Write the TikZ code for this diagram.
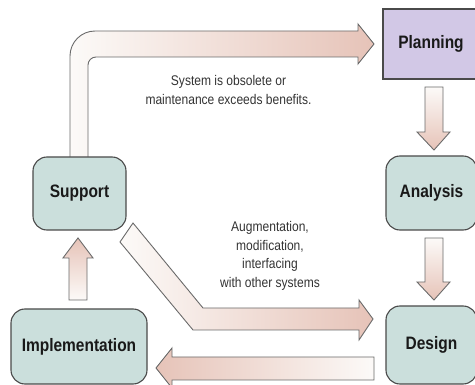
\documentclass[tikz,border=0pt]{standalone}
\usepackage{fontspec}
\setmainfont[FakeStretch=0.86]{Liberation Sans}
\definecolor{boxteal}{HTML}{CBDFDC}
\definecolor{planlav}{HTML}{D2C8E6}
\definecolor{edgegray}{HTML}{4A4A4A}
\definecolor{arrwhite}{HTML}{FCFAF8}
\definecolor{arrpink}{HTML}{E6C3B8}
\definecolor{arredge}{HTML}{6A6A6A}
\begin{document}
\begin{tikzpicture}[x=1pt,y=-1pt,
  box/.style={draw=edgegray, line width=1.1pt, fill=boxteal, rounded corners=14pt,
    inner sep=0pt, font=\bfseries\fontsize{18}{21}\selectfont, text=black!90},
  planbox/.style={box, fill=planlav, sharp corners},
  fat/.style={draw=arredge, line width=0.9pt, line join=miter},
  note/.style={align=center, inner sep=0pt, font=\fontsize{14}{18.5}\selectfont, text=black!80}]
\clip (0,0) rectangle (475,385);
\useasboundingbox (0,0) rectangle (475,385);

% fat arrows (drawn first so boxes cover their ends)
\path[fat, left color=arrwhite, right color=arrpink]
  (70,160) -- (70,56) .. controls (70,42.2) and (81.2,31) .. (95,31) -- (358,31) -- (358,24)
  -- (374,44) -- (358,64) -- (358,57) -- (96,57) .. controls (91.6,57) and (88,60.6) .. (88,65)
  -- (88,160) -- cycle;
\path[fat, top color=arrwhite, bottom color=arrpink]
  (425,87) -- (443,87) -- (443,132) -- (450,132) -- (434,150) -- (417,132) -- (425,132) -- cycle;
\path[fat, top color=arrwhite, bottom color=arrpink]
  (425,238) -- (443,238) -- (443,282) -- (450,282) -- (434,300) -- (417,282) -- (425,282) -- cycle;
\path[fat, top color=arrpink, bottom color=arrwhite]
  (69,300) -- (87,300) -- (87,258) -- (93,258) -- (78,238) -- (63,258) -- (69,258) -- cycle;
\path[fat, left color=arrpink, right color=arrwhite]
  (374,357) -- (172,357) -- (172,348) -- (156,368) -- (172,388) -- (172,380) -- (374,380) -- cycle;
\path[fat, left color=arrwhite, right color=arrpink]
  (133,223) -- (203,308) -- (359,308) -- (359,300) -- (373,319) -- (359,340) -- (359,330)
  -- (193,330) -- (120,242) -- cycle;

% boxes
\node[planbox, minimum width=96pt, minimum height=70pt] (plan) at (431,44) {Planning};
\node[box, minimum width=91pt, minimum height=74pt] (ana) at (431.5,193) {Analysis};
\node[box, minimum width=91pt, minimum height=78pt] (des) at (431.5,345) {Design};
\node[box, minimum width=93pt, minimum height=73pt] (sup) at (79.5,193.5) {Support};
\node[box, minimum width=136pt, minimum height=75pt] (imp) at (79,346.5) {Implementation};

% notes
\node[note] (n1) at (228.5,90) {System is obsolete or\\maintenance exceeds benefits.};
\node[note] (n2) at (270,256) {Augmentation,\\modification,\\interfacing\\with other systems};
\end{tikzpicture}
\end{document}
